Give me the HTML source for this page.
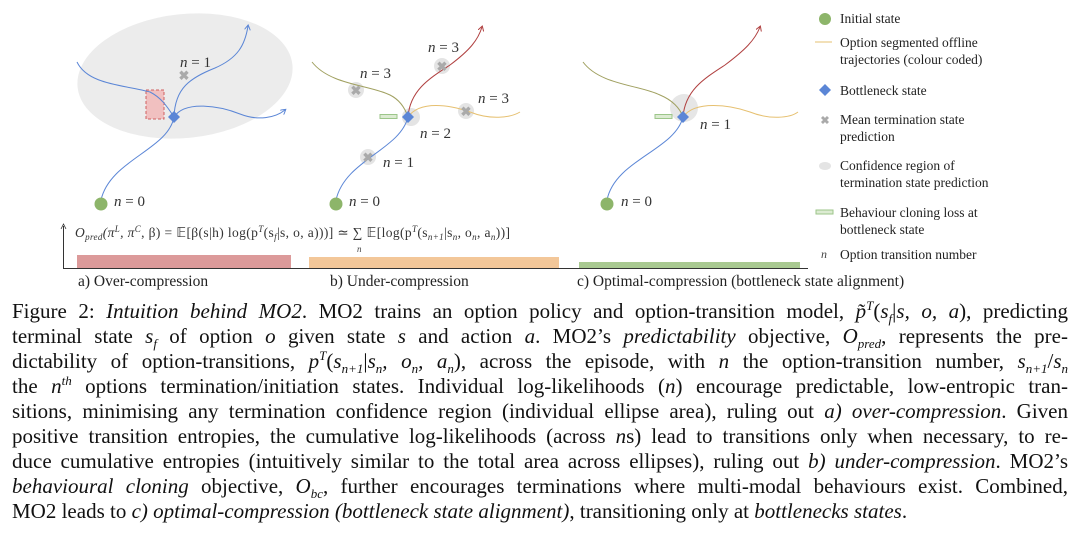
<!DOCTYPE html>
<html><head><meta charset="utf-8"><style>
body{margin:0;width:1080px;height:537px;background:#fff;overflow:hidden;position:relative;font-family:"Liberation Serif",serif;}
svg{position:absolute;left:0;top:0}
.cap{position:absolute;left:12px;width:1056px;font-size:21px;color:#111;}
.cap div{text-align:justify;text-align-last:justify;white-space:nowrap;height:25px;line-height:25px;overflow:visible}
.cap div.last{text-align-last:left}
.cap sub,.cap sup{font-size:13px;line-height:0}
.leg{position:absolute;left:840px;font-size:13.5px;color:#222;line-height:17px}
.lab{position:absolute;font-size:15.5px;color:#222}
</style></head><body>
<svg width="1080" height="300" viewBox="0 0 1080 300">
<defs><marker id="ab" markerWidth="6" markerHeight="6" refX="4" refY="3" orient="auto"><path d="M0,0 L5,3 L0,6" fill="none" stroke="#5b86d6" stroke-width="1"/></marker>
<marker id="ar" markerWidth="6" markerHeight="6" refX="4" refY="3" orient="auto"><path d="M0,0 L5,3 L0,6" fill="none" stroke="#b04040" stroke-width="1"/></marker></defs>
<ellipse cx="185" cy="76" rx="108" ry="62" transform="rotate(-6 185 76)" fill="#ececec"/>
<rect x="146" y="90" width="18" height="29" fill="#f1c0c0" stroke="#d06060" stroke-dasharray="3,2"/>
<g fill="none" stroke="#5b86d6" stroke-width="1">
<path d="M101,200 C110,160 168,150 174,117"/>
<path d="M174,117 C175,88 190,78 215,68 C238,58 245,45 248,26" marker-end="url(#ab)"/>
<path d="M77,62 C88,85 125,85 150,92 C162,98 168,108 174,117"/>
<path d="M174,117 C185,100 220,106 240,114 C258,121 275,118 285,110" marker-end="url(#ab)"/>
</g>
<text x="184" y="80" font-size="13" fill="#aaa" text-anchor="middle" font-weight="bold">✖</text>
<path d="M174,111 L180,117 L174,123 L168,117Z" fill="#5b86d6"/>
<circle cx="101" cy="204" r="6.5" fill="#8db56a"/>
<g fill="#e4e4e4"><circle cx="356" cy="90" r="8"/><circle cx="442" cy="66" r="8"/><circle cx="466" cy="111" r="8"/><circle cx="368" cy="157" r="8"/><circle cx="411" cy="117" r="9"/></g>
<path d="M312,62 C330,85 370,85 390,95 C400,100 405,108 408,117" fill="none" stroke="#a0a060" stroke-width="1"/>
<path d="M408,117 C410,90 430,78 450,65 C470,50 478,40 482,27" fill="none" stroke="#b04040" stroke-width="1" marker-end="url(#ar)"/>
<path d="M408,117 C420,100 450,105 470,112 C490,120 510,118 520,112" fill="none" stroke="#e6c070" stroke-width="1"/>
<path d="M336,200 C345,160 400,150 408,117" fill="none" stroke="#5b86d6" stroke-width="1"/>
<g font-size="13" fill="#aaa" text-anchor="middle" font-weight="bold"><text x="356" y="95">✖</text><text x="442" y="71">✖</text><text x="466" y="116">✖</text><text x="368" y="162">✖</text></g>
<rect x="380" y="114.5" width="17" height="4" fill="#dcebd2" stroke="#9cc68a" stroke-width="1"/>
<path d="M408,111 L414,117 L408,123 L402,117Z" fill="#5b86d6"/>
<circle cx="336" cy="204" r="6.5" fill="#8db56a"/>
<circle cx="684" cy="108" r="14" fill="#e6e6e6"/>
<path d="M583,62 C600,85 640,85 660,95 C672,100 680,108 683,117" fill="none" stroke="#a0a060" stroke-width="1"/>
<path d="M683,117 C685,90 705,78 725,65 C745,50 755,40 760,27" fill="none" stroke="#b04040" stroke-width="1" marker-end="url(#ar)"/>
<path d="M683,117 C695,100 730,105 750,112 C770,120 790,118 798,112" fill="none" stroke="#e6c070" stroke-width="1"/>
<path d="M607,200 C615,160 675,150 683,117" fill="none" stroke="#5b86d6" stroke-width="1"/>
<rect x="655" y="114.5" width="17" height="4" fill="#dcebd2" stroke="#9cc68a" stroke-width="1"/>
<path d="M683,111 L689,117 L683,123 L677,117Z" fill="#5b86d6"/>
<circle cx="607" cy="204" r="6.5" fill="#8db56a"/>
<g font-family="Liberation Serif" font-size="15" fill="#333" font-style="italic">
<text x="114" y="206">n <tspan font-style="normal">= 0</tspan></text>
<text x="180" y="67">n <tspan font-style="normal">= 1</tspan></text>
<text x="349" y="206">n <tspan font-style="normal">= 0</tspan></text>
<text x="383" y="167">n <tspan font-style="normal">= 1</tspan></text>
<text x="420" y="138">n <tspan font-style="normal">= 2</tspan></text>
<text x="360" y="78">n <tspan font-style="normal">= 3</tspan></text>
<text x="428" y="52">n <tspan font-style="normal">= 3</tspan></text>
<text x="478" y="103">n <tspan font-style="normal">= 3</tspan></text>
<text x="621" y="206">n <tspan font-style="normal">= 0</tspan></text>
<text x="700" y="129">n <tspan font-style="normal">= 1</tspan></text>
</g>
<text x="75" y="237" font-family="Liberation Serif" font-size="13.5" fill="#333" font-style="italic" textLength="435">O<tspan font-size="9" dy="3">pred</tspan><tspan dy="-3">(π</tspan><tspan font-size="9" dy="-5">L</tspan><tspan dy="5">, π</tspan><tspan font-size="9" dy="-5">C</tspan><tspan dy="5" font-style="normal">, β) = 𝔼[β(s|h) log(p</tspan><tspan font-size="9" dy="-5">T</tspan><tspan dy="5" font-style="normal">(s</tspan><tspan font-size="9" dy="3">f</tspan><tspan dy="-3" font-style="normal">|s, o, a)))] ≃ ∑ 𝔼[log(p</tspan><tspan font-size="9" dy="-5">T</tspan><tspan dy="5" font-style="normal">(s</tspan><tspan font-size="9" dy="3">n+1</tspan><tspan dy="-3" font-style="normal">|s</tspan><tspan font-size="9" dy="3">n</tspan><tspan dy="-3" font-style="normal">, o</tspan><tspan font-size="9" dy="3">n</tspan><tspan dy="-3" font-style="normal">, a</tspan><tspan font-size="9" dy="3">n</tspan><tspan dy="-3" font-style="normal">))]</tspan></text>
<text x="357" y="252" font-size="9" fill="#444" font-style="italic" font-family="Liberation Serif">n</text>
<line x1="63.5" y1="226" x2="63.5" y2="268" stroke="#333" stroke-width="1"/>
<path d="M61,229 L63.5,224 L66,229" fill="none" stroke="#333" stroke-width="0.8"/>
<line x1="63" y1="268.5" x2="808" y2="268.5" stroke="#333" stroke-width="1"/>
<rect x="77" y="255" width="214" height="13" fill="#dc9a9a"/>
<rect x="309" y="257" width="250" height="11" fill="#f3c799"/>
<rect x="579" y="262" width="221" height="6" fill="#a9c991"/>
<circle cx="825" cy="19" r="6" fill="#8db56a"/>
<line x1="815" y1="42" x2="832" y2="42" stroke="#e6c070" stroke-width="1"/>
<path d="M825,84 L831,90 L825,96 L819,90Z" fill="#5b86d6"/>
<text x="825" y="124" font-size="11" fill="#aaa" text-anchor="middle" font-weight="bold">✖</text>
<ellipse cx="825" cy="166" rx="6" ry="4" fill="#e4e4e4"/>
<rect x="816" y="210" width="17" height="4" fill="#dcebd2" stroke="#9cc68a" stroke-width="1"/>
<text x="821" y="258" font-size="12" fill="#444" font-style="italic" font-family="Liberation Serif">n</text>
</svg>
<div class="leg" style="top:10px">Initial state</div>
<div class="leg" style="top:34px">Option segmented offline<br>trajectories (colour coded)</div>
<div class="leg" style="top:82px">Bottleneck state</div>
<div class="leg" style="top:111px">Mean termination state<br>prediction</div>
<div class="leg" style="top:157px">Confidence region of<br>termination state prediction</div>
<div class="leg" style="top:204px">Behaviour cloning loss at<br>bottleneck state</div>
<div class="leg" style="top:246px">Option transition number</div>
<div class="lab" style="left:78px;top:273px">a) Over-compression</div>
<div class="lab" style="left:330px;top:273px">b) Under-compression</div>
<div class="lab" style="left:577px;top:273px">c) Optimal-compression (bottleneck state alignment)</div>
<div class="cap" style="top:299px">
<div>Figure 2: <i>Intuition behind MO2</i>. MO2 trains an option policy and option-transition model, <i>p̃<sup>T</sup></i>(<i>s<sub>f</sub></i>|<i>s, o, a</i>), predicting</div>
<div>terminal state <i>s<sub>f</sub></i> of option <i>o</i> given state <i>s</i> and action <i>a</i>. MO2’s <i>predictability</i> objective, <i>O<sub>pred</sub></i>, represents the pre-</div>
<div>dictability of option-transitions, <i>p<sup>T</sup></i>(<i>s<sub>n+1</sub></i>|<i>s<sub>n</sub>, o<sub>n</sub>, a<sub>n</sub></i>), across the episode, with <i>n</i> the option-transition number, <i>s<sub>n+1</sub></i>/<i>s<sub>n</sub></i></div>
<div>the <i>n<sup>th</sup></i> options termination/initiation states. Individual log-likelihoods (<i>n</i>) encourage predictable, low-entropic tran-</div>
<div>sitions, minimising any termination confidence region (individual ellipse area), ruling out <i>a) over-compression</i>. Given</div>
<div>positive transition entropies, the cumulative log-likelihoods (across <i>n</i>s) lead to transitions only when necessary, to re-</div>
<div>duce cumulative entropies (intuitively similar to the total area across ellipses), ruling out <i>b) under-compression</i>. MO2’s</div>
<div><i>behavioural cloning</i> objective, <i>O<sub>bc</sub></i>, further encourages terminations where multi-modal behaviours exist. Combined,</div>
<div class="last">MO2 leads to <i>c) optimal-compression (bottleneck state alignment)</i>, transitioning only at <i>bottlenecks states</i>.</div>
</div>
</body></html>
